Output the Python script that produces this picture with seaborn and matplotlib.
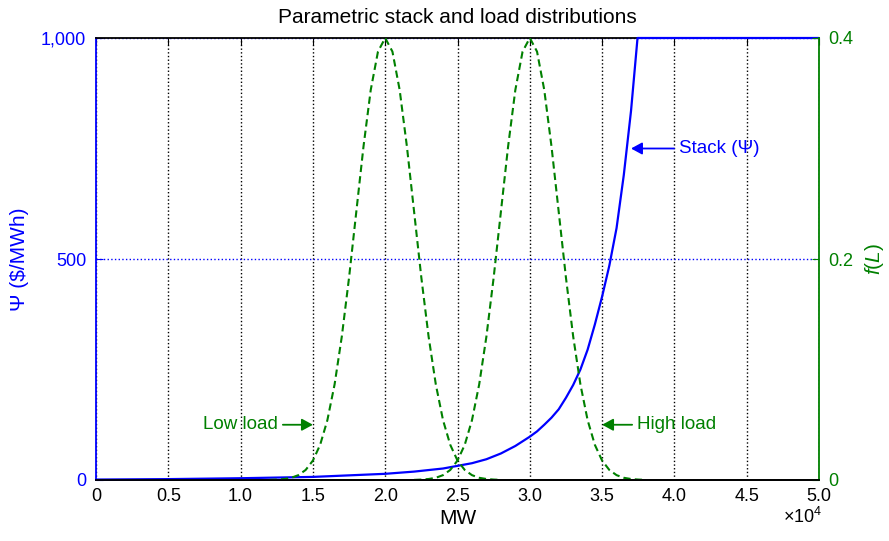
import numpy as np
import pandas as pd
import seaborn as sns
import matplotlib
matplotlib.use('Agg')
import matplotlib.pyplot as plt

# supply stack (price vs load)
stack_mw = [0, 5000, 10000, 15000, 20000, 22000, 24000, 25000, 26000, 27000,
            28000, 29000, 30000, 30500, 31000, 31500, 32000, 32500, 33000,
            33500, 34000, 34500, 35000, 35500, 36000, 36500, 37000, 37450, 50000]
stack_price = [1, 2, 4, 7, 14, 19, 26, 32, 38, 47,
               60, 77, 98, 110, 125, 141, 160, 186, 215,
               250, 295, 352, 415, 485, 570, 690, 835, 1000, 1000]

# load distributions f(L), low and high load cases
low_load_mw = np.arange(12000, 28001, 500)
low_load_f = [0.0001, 0.0004, 0.0009, 0.0020, 0.0044, 0.0091, 0.0176, 0.0318,
              0.0541, 0.0865, 0.1299, 0.1831, 0.2426, 0.3019, 0.3530, 0.3877,
              0.4000,
              0.3877, 0.3530, 0.3019, 0.2426, 0.1831, 0.1299, 0.0865, 0.0541,
              0.0318, 0.0176, 0.0091, 0.0044, 0.0020, 0.0009, 0.0004, 0.0001]
high_load_mw = np.arange(22000, 38001, 500)
high_load_f = [0.0001, 0.0004, 0.0009, 0.0020, 0.0044, 0.0091, 0.0176, 0.0318,
               0.0541, 0.0865, 0.1299, 0.1831, 0.2426, 0.3019, 0.3530, 0.3877,
               0.4000,
               0.3877, 0.3530, 0.3019, 0.2426, 0.1831, 0.1299, 0.0865, 0.0541,
               0.0318, 0.0176, 0.0091, 0.0044, 0.0020, 0.0009, 0.0004, 0.0001]

x_ticks = [0, 5000, 10000, 15000, 20000, 25000, 30000, 35000, 40000, 45000, 50000]
x_ticklabels = ['0', '0.5', '1.0', '1.5', '2.0', '2.5', '3.0', '3.5', '4.0', '4.5', '5.0']
left_ticks = [0, 500, 1000]
left_ticklabels = ['0', '500', '1,000']
right_ticks = [0, 0.2, 0.4]
right_ticklabels = ['0', '0.2', '0.4']

blue = '#0000ff'
green = '#008000'

sns.set_style('white')
plt.rcParams['font.family'] = ['Liberation Sans', 'DejaVu Sans']
plt.rcParams['mathtext.fontset'] = 'custom'
plt.rcParams['mathtext.rm'] = 'Liberation Sans'
plt.rcParams['mathtext.it'] = 'Liberation Sans:italic'
plt.rcParams['font.size'] = 13
plt.rcParams['text.color'] = 'black'
plt.rcParams['axes.labelcolor'] = 'black'
plt.rcParams['xtick.color'] = 'black'

fig = plt.figure(figsize=(8.89, 5.41), dpi=100)
ax = fig.add_axes([96/889, 61/541, 723/889, 442/541])
ax2 = ax.twinx()

sns.lineplot(x=stack_mw, y=stack_price, ax=ax, color=blue, linewidth=1.6,
             zorder=3, clip_on=False)
sns.lineplot(x=low_load_mw, y=low_load_f, ax=ax2, color=green, linewidth=1.5)
sns.lineplot(x=high_load_mw, y=high_load_f, ax=ax2, color=green, linewidth=1.5)
for l in ax2.lines:
    l.set_linestyle((0, (3.5, 2)))

ax.set_xlim(0, 50000)
ax.set_ylim(0, 1000)
ax2.set_ylim(0, 0.4)

ax.set_xticks(x_ticks)
ax.set_xticklabels(x_ticklabels, fontsize=13)
ax.set_yticks(left_ticks)
ax.set_yticklabels(left_ticklabels, fontsize=13, color=blue)
ax2.set_yticks(right_ticks)
ax2.set_yticklabels(right_ticklabels, fontsize=13, color=green)

ax.tick_params(axis='x', direction='in', length=5, top=True, color='black',
               labelcolor='black', pad=6)
ax.tick_params(axis='y', direction='in', length=5, colors=blue, pad=7, right=False)
ax2.tick_params(axis='y', direction='in', length=5, colors=green, pad=7)

ax.xaxis.grid(True, color='black', linestyle=':', linewidth=1.0)
ax.yaxis.grid(True, color=blue, linestyle=':', linewidth=1.0)

for s in ['top', 'bottom']:
    ax.spines[s].set_color('black')
    ax.spines[s].set_linewidth(1.3)
ax.spines['left'].set_color(blue)
ax.spines['left'].set_linewidth(1.3)
ax.spines['right'].set_visible(False)
ax2.spines['left'].set_visible(False)
ax2.spines['top'].set_visible(False)
ax2.spines['bottom'].set_color('black')
ax2.spines['bottom'].set_linewidth(1.3)
ax2.spines['right'].set_color(green)
ax2.spines['right'].set_linewidth(1.3)

ax.set_xlabel('MW', fontsize=15, labelpad=3, color='black')
ax.set_ylabel('Ψ ($/MWh)', fontsize=15, color=blue, labelpad=9)
ax2.set_ylabel('$f$($L$)', fontsize=15, color=green, labelpad=7)
ax.set_title('Parametric stack and load distributions', fontsize=15, pad=11,
             color='black')

fig.text(822/889, 1 - 507/541, r'$\times10^{4}$', ha='right', va='top',
         fontsize=13, color='black')

arrow = dict(arrowstyle='-|>,head_length=0.55,head_width=0.3', lw=1.3,
             mutation_scale=12, shrinkA=1, shrinkB=0)
ax.annotate('Stack (Ψ)', xy=(37000, 750), xytext=(40300, 750), color=blue,
            fontsize=13.5, ha='left', va='center',
            arrowprops=dict(arrow, color=blue, relpos=(0, 0.5)))
ax2.annotate('Low load', xy=(15000, 0.05), xytext=(12600, 0.05), color=green,
             fontsize=13.5, ha='right', va='center',
             arrowprops=dict(arrow, color=green, relpos=(1, 0.5)))
ax2.annotate('High load', xy=(35000, 0.05), xytext=(37400, 0.05), color=green,
             fontsize=13.5, ha='left', va='center',
             arrowprops=dict(arrow, color=green, relpos=(0, 0.5)))

fig.savefig('out.png', dpi=100)
